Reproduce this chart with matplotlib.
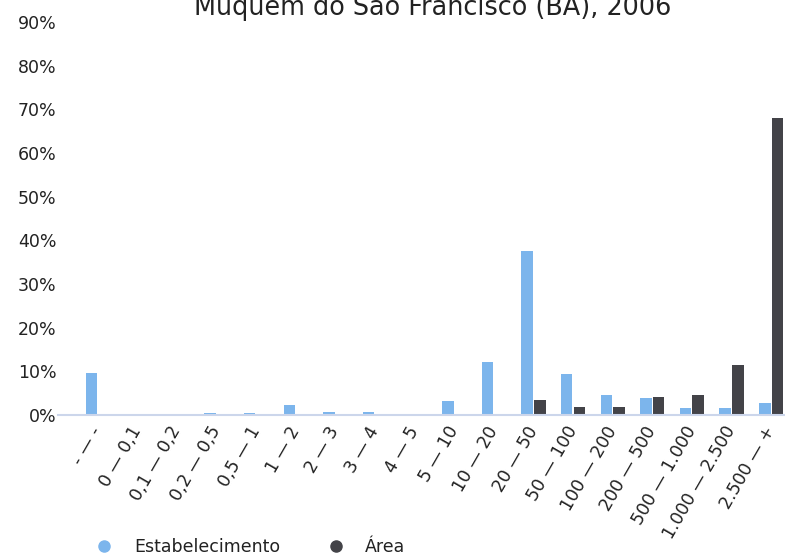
import matplotlib
matplotlib.use("Agg")
import matplotlib.pyplot as plt
import numpy as np
from matplotlib.ticker import FuncFormatter
from matplotlib.lines import Line2D

plt.rcParams["font.family"] = ["DejaVu Sans"]

categories = ["- — -", "0 — 0,1", "0,1 — 0,2", "0,2 — 0,5", "0,5 — 1", "1 — 2", "2 — 3",
              "3 — 4", "4 — 5", "5 — 10", "10 — 20", "20 — 50", "50 — 100", "100 — 200",
              "200 — 500", "500 — 1.000", "1.000 — 2.500", "2.500 — +"]
estabelecimento = [9.6, 0, 0, 0.5, 0.4, 2.3, 0.7, 0.7, 0.3, 3.2, 12.1, 37.5, 9.4, 4.5,
                   3.9, 1.6, 1.7, 2.7]
area = [0, 0, 0, 0, 0, 0, 0, 0, 0, 0, 0.2, 3.4, 1.8, 1.8, 4.1, 4.6, 11.4, 68.0]
yticks = [0, 10, 20, 30, 40, 50, 60, 70, 80, 90]
title = "Muquém do São Francisco (BA), 2006"
c_est = "#7cb5ec"
c_area = "#434348"

fig = plt.figure(figsize=(7.85, 5.55), dpi=100)
ax = fig.add_axes([58/785, 1-415/555, 1-58/785, (415-22)/555])
x = np.arange(len(categories))
w = 0.29
ax.bar(x - 0.16, estabelecimento, width=w, color=c_est, zorder=2)
ax.bar(x + 0.16, area, width=w, color=c_area, zorder=2)
ax.set_xlim(-1.0, 17.35)
ax.set_ylim(0, 90)
ax.set_yticks(yticks)
ax.yaxis.set_major_formatter(FuncFormatter(lambda v, p: f"{int(v)}%"))
for s in ["top", "right", "left"]:
    ax.spines[s].set_visible(False)
ax.spines["bottom"].set_color("#ccd6eb")
ax.spines["bottom"].set_linewidth(1.5)
ax.spines["bottom"].set_zorder(3)
ax.tick_params(axis="y", length=0, labelsize=12.5, pad=1, labelcolor="#222222")
ax.tick_params(axis="x", length=0, labelsize=12.5, pad=9, labelcolor="#222222")
ax.set_xticks(x)
ax.set_xticklabels(categories, rotation=60, ha="right", va="center", rotation_mode="anchor")

fig.text(433/785, 1-15/555, title, ha="center", va="baseline", fontsize=18.4, color="#222222")

handles = [Line2D([], [], marker="o", linestyle="none", markersize=8, color=c_est),
           Line2D([], [], marker="o", linestyle="none", markersize=8, color=c_area)]
fig.legend(handles, ["Estabelecimento", "Área"], loc="center", ncol=2, frameon=False,
           bbox_to_anchor=(248/785, 1-547/555), fontsize=12.5, columnspacing=2.4,
           handletextpad=0.9, handlelength=1.6, labelcolor="#222222")

fig.savefig("out.png", dpi=100)
